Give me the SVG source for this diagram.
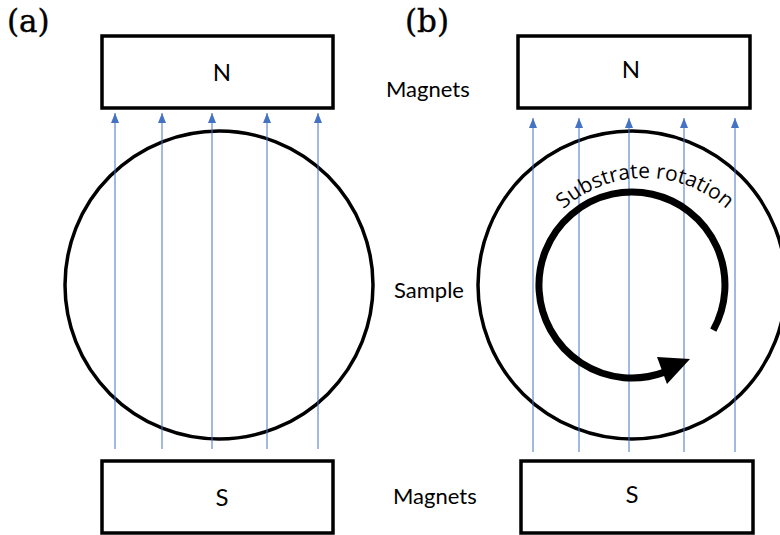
<svg xmlns="http://www.w3.org/2000/svg" width="780" height="535" viewBox="0 0 780 535">
<style>
.box{fill:#fff;stroke:#000;stroke-width:3.5}
.ring{fill:none;stroke:#000;stroke-width:3.5}
.field{stroke:#4472C4;stroke-width:1;fill:none}
.lbl{font-family:Lato,"Liberation Sans",sans-serif;font-size:22px;fill:#000}
.pole{font-family:Lato,"Liberation Sans",sans-serif;font-size:24px;fill:#000;text-anchor:middle}
.tag{font-family:"DejaVu Serif","Liberation Serif",serif;font-size:31px;fill:#000;stroke:#000;stroke-width:0.4}
.rot{font-family:"Open Sans","Liberation Sans",sans-serif;font-size:21px;fill:#000}
</style>
<defs>
<marker id="ah" viewBox="0 0 10 8" refX="10" refY="4" markerWidth="10" markerHeight="8" markerUnits="userSpaceOnUse" orient="auto">
<path d="M0,0 L10,4 L0,8 Z" fill="#4472C4"/>
</marker>
<path id="tp" d="M523,300 A122,122 0 0 1 767,300"/>
</defs>
<rect width="780" height="535" fill="#fff"/>
<text class="tag" x="7" y="32">(a)</text>
<text class="tag" x="405" y="32">(b)</text>
<g id="sample-a"><circle class="ring" cx="219" cy="285" r="154"/></g>
<g id="sample-b"><circle class="ring" cx="632" cy="285" r="154"/></g>
<g id="connectors">
<line class="field" x1="115" y1="449" x2="115" y2="113" marker-end="url(#ah)"/>
<line class="field" x1="162" y1="449" x2="162" y2="113" marker-end="url(#ah)"/>
<line class="field" x1="212" y1="449" x2="212" y2="113" marker-end="url(#ah)"/>
<line class="field" x1="267" y1="449" x2="267" y2="113" marker-end="url(#ah)"/>
<line class="field" x1="318" y1="449" x2="318" y2="113" marker-end="url(#ah)"/>
<line class="field" x1="533" y1="452" x2="533" y2="118" marker-end="url(#ah)"/>
<line class="field" x1="579" y1="452" x2="579" y2="118" marker-end="url(#ah)"/>
<line class="field" x1="629" y1="452" x2="629" y2="118" marker-end="url(#ah)"/>
<line class="field" x1="684" y1="452" x2="684" y2="118" marker-end="url(#ah)"/>
<line class="field" x1="735" y1="452" x2="735" y2="118" marker-end="url(#ah)"/>
</g>
<g id="rotation">
<path d="M713.3,330.1 A93,93 0 1 0 663.8,372.4" fill="none" stroke="#000" stroke-width="7"/>
<polygon points="657,357 667,384 690,359" fill="#000"/>
<text class="rot"><textPath href="#tp" startOffset="50%" text-anchor="middle">Substrate rotation</textPath></text>
</g>
<g id="magnet-n-a"><rect class="box" x="102" y="36" width="231" height="72"/><text class="pole" x="222" y="81">N</text></g>
<g id="magnet-n-b"><rect class="box" x="518" y="36" width="232" height="72"/><text class="pole" x="631" y="78">N</text></g>
<g id="magnet-s-a"><rect class="box" x="102" y="461" width="231" height="72"/><text class="pole" x="222" y="506">S</text></g>
<g id="magnet-s-b"><rect class="box" x="521" y="461" width="232" height="72"/><text class="pole" x="632" y="503">S</text></g>
<text class="lbl" x="386" y="97">Magnets</text>
<text class="lbl" x="394" y="298">Sample</text>
<text class="lbl" x="393" y="504">Magnets</text>
</svg>
